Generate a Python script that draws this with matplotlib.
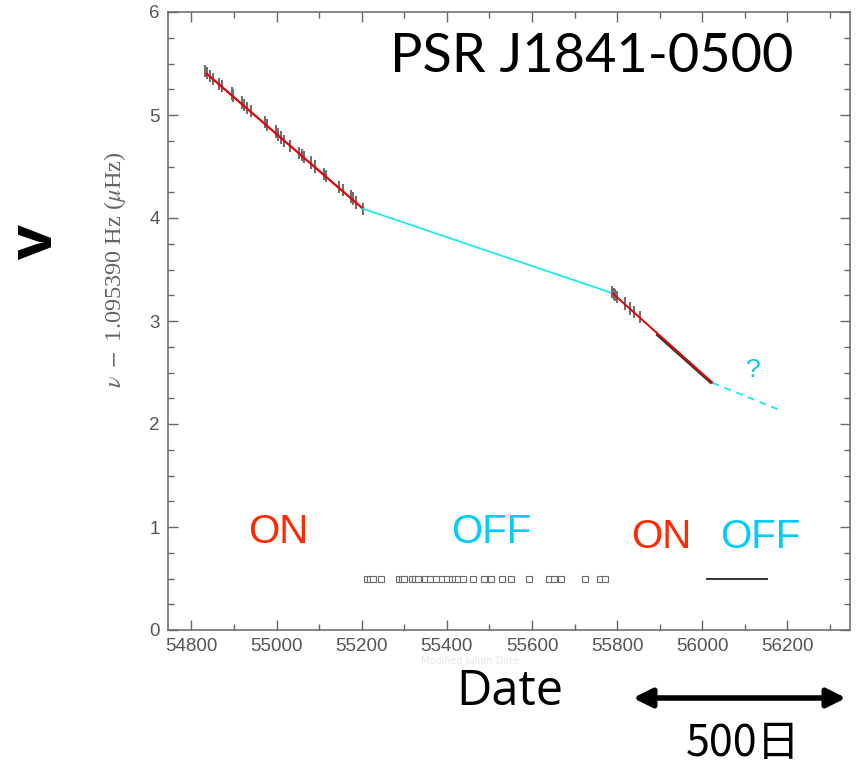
import matplotlib
matplotlib.use("Agg")
import matplotlib.pyplot as plt
from matplotlib.ticker import MultipleLocator

plt.rcParams["mathtext.fontset"] = "stix"

# Timing measurements (MJD) while the pulsar is on, with frequency offsets (uHz)
on1_mjd = [54833, 54836, 54844, 54851, 54865, 54873, 54895, 54898, 54918, 54924,
           54931, 54939, 54973, 54978, 54998, 55004, 55011, 55017, 55031, 55052,
           55059, 55064, 55081, 55091, 55111, 55116, 55147, 55156, 55175, 55179,
           55186, 55204]
on1_nu = [5.43, 5.41, 5.38, 5.35, 5.30, 5.28, 5.21, 5.19, 5.12, 5.10,
          5.07, 5.04, 4.93, 4.90, 4.84, 4.81, 4.78, 4.75, 4.70, 4.63,
          4.61, 4.59, 4.54, 4.50, 4.43, 4.41, 4.30, 4.27, 4.21, 4.19,
          4.15, 4.09]
on2_mjd = [55788, 55792, 55796, 55800, 55819, 55831, 55839, 55853]
on2_nu = [3.28, 3.26, 3.25, 3.23, 3.17, 3.12, 3.09, 3.04]
nu_err = 0.06

# Spin-down fits: on, off, on, extrapolated off
fit_on1_mjd = [54836, 55203]
fit_on1_nu = [5.40, 4.09]
fit_off1_mjd = [55203, 55789]
fit_off1_nu = [4.09, 3.27]
fit_on2_mjd = [55789, 56024]
fit_on2_nu = [3.27, 2.40]
fit_on2_black_mjd = [55895, 56020]
fit_on2_black_nu = [2.865, 2.405]
fit_off2_mjd = [56024, 56179]
fit_off2_nu = [2.40, 2.14]

# Epochs with no detection (off state)
nondet_mjd = [55213, 55219, 55227, 55245, 55288, 55294, 55299, 55317, 55325, 55333,
              55349, 55360, 55375, 55388, 55400, 55412, 55419, 55427, 55439, 55461,
              55488, 55504, 55529, 55551, 55592, 55641, 55652, 55668, 55725, 55760,
              55772]
nondet_level = 0.5
off_span_mjd = [56011, 56152]

xticks = [54800, 55000, 55200, 55400, 55600, 55800, 56000, 56200]
yticks = [0, 1, 2, 3, 4, 5, 6]

RED = "#e80000"
CYAN = "#1ee8f4"
LABEL_RED = "#ff2a00"
LABEL_CYAN = "#00ccff"
GRAY = "#666666"

fig = plt.figure(figsize=(8.58, 7.66), dpi=100)
ax = fig.add_axes([168 / 858, 1 - 630 / 766, (850 - 168) / 858, (630 - 12) / 766])

ax.errorbar(on1_mjd, on1_nu, yerr=nu_err, fmt="none", ecolor="#707070",
            elinewidth=1.5, zorder=2)
ax.errorbar(on2_mjd, on2_nu, yerr=nu_err, fmt="none", ecolor="#707070",
            elinewidth=1.5, zorder=2)

ax.plot(fit_on1_mjd, fit_on1_nu, color=RED, lw=1.6, zorder=3)
ax.plot(fit_off1_mjd, fit_off1_nu, color=CYAN, lw=1.3, zorder=3)
ax.plot(fit_on2_black_mjd, fit_on2_black_nu, color="#333333", lw=2.2, zorder=2)
ax.plot(fit_on2_mjd, fit_on2_nu, color=RED, lw=1.4, zorder=3)
ax.plot(fit_off2_mjd, fit_off2_nu, color=CYAN, lw=1.3, ls=(0, (4, 3)), zorder=3)

ax.plot(nondet_mjd, [nondet_level] * len(nondet_mjd), ls="none", marker="s",
        markersize=3.8, markerfacecolor="white", markeredgecolor="#6a6a6a",
        markeredgewidth=0.8, zorder=3)
ax.plot(off_span_mjd, [nondet_level, nondet_level], color="#333333", lw=1.4)

ax.set_xlim(54745, 56347)
ax.set_ylim(0, 6)
ax.set_xticks(xticks)
ax.set_yticks(yticks)
ax.xaxis.set_minor_locator(MultipleLocator(100))
ax.yaxis.set_minor_locator(MultipleLocator(0.25))
ax.tick_params(which="both", direction="in", top=True, right=True, color=GRAY,
               labelcolor="#555555", labelsize=13.5, pad=6,
               labelfontfamily="Liberation Sans")
ax.tick_params(which="major", length=7, width=1)
ax.tick_params(which="minor", length=4, width=1)
for s in ax.spines.values():
    s.set_color(GRAY)
    s.set_linewidth(1.1)

ax.set_ylabel(r"$\nu\ -$ 1.095390 Hz ($\mu$Hz)", fontsize=17.5, color="#666666",
              family="Liberation Serif")
ax.yaxis.set_label_coords(-0.058, 0.583)

# State annotations
ax.text(55003, 0.95, "ON", color=LABEL_RED, fontsize=29, family="Liberation Sans",
        ha="center", va="center")
ax.text(55504, 0.95, "OFF", color=LABEL_CYAN, fontsize=29, family="Liberation Sans",
        ha="center", va="center")
ax.text(55904, 0.90, "ON", color=LABEL_RED, fontsize=29, family="Liberation Sans",
        ha="center", va="center")
ax.text(56137, 0.90, "OFF", color=LABEL_CYAN, fontsize=29, family="Liberation Sans",
        ha="center", va="center")
ax.text(56120, 2.52, "?", color=LABEL_CYAN, fontsize=19, family="Liberation Sans",
        ha="center", va="center")

fig.text(592 / 858, 1 - 56 / 766, "PSR J1841-0500", fontsize=39, family="Lato",
         ha="center", va="center", color="black")
fig.text(37 / 858, 1 - 242 / 766, "v", fontsize=44, family="Open Sans",
         fontweight="bold", rotation=90, ha="center", va="center", color="black")
fig.text(470 / 858, 1 - 661 / 766, "Modified Julian Date", fontsize=7,
         color="#e8e8e8", ha="center", va="center")
fig.text(510 / 858, 1 - 692 / 766, "Date", fontsize=35, family="Open Sans",
         ha="center", va="center", color="black")
fig.text(743 / 858, 1 - 744 / 766, "500日", fontsize=31,
         family=["Noto Sans CJK JP", "DejaVu Sans"], ha="center", va="center",
         color="black")
fig.add_artist(matplotlib.patches.FancyArrowPatch(
    (633 / 858, 1 - 698 / 766), (846 / 858, 1 - 698 / 766),
    transform=fig.transFigure, arrowstyle="<|-|>", mutation_scale=28,
    lw=4, color="black", shrinkA=0, shrinkB=0))

fig.savefig("out.png", dpi=100)
